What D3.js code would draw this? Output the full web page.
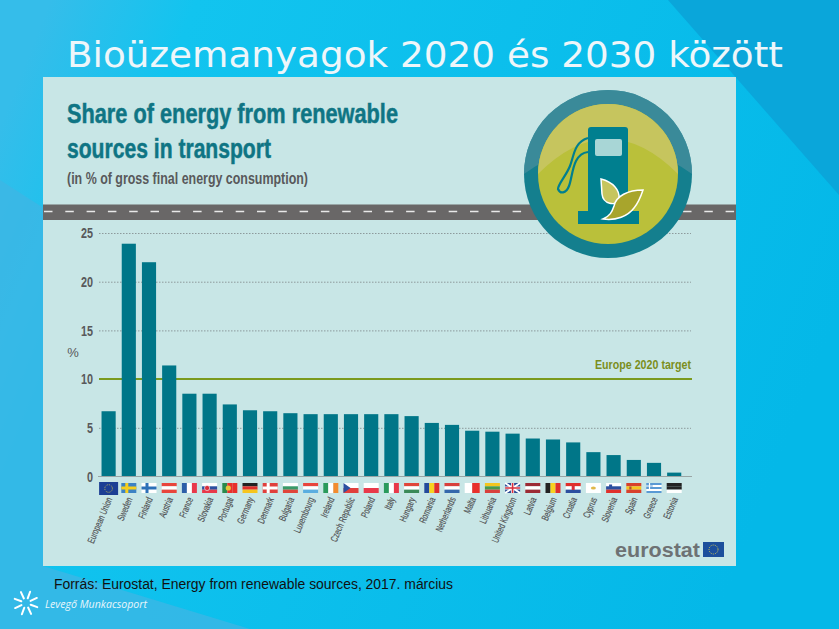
<!DOCTYPE html>
<html>
<head>
<meta charset="utf-8">
<script src="https://cdn.jsdelivr.net/npm/d3@7"></script>
<style>
  html, body { margin: 0; padding: 0; background: #08c0ec; overflow: hidden; }
  svg { display: block; }
  .narrow { font-family: "Liberation Sans", sans-serif; }
</style>
</head>
<body>
<svg id="chart" width="839" height="629"></svg>
<script>
const countries = ["European Union", "Sweden", "Finland", "Austria", "France", "Slovakia", "Portugal", "Germany", "Denmark", "Bulgaria", "Luxembourg", "Ireland", "Czech Republic", "Poland", "Italy", "Hungary", "Romania", "Netherlands", "Malta", "Lithuania", "United Kingdom", "Latvia", "Belgium", "Croatia", "Cyprus", "Slovenia", "Spain", "Greece", "Estonia"];
const shares = [6.7, 23.9, 22, 11.4, 8.5, 8.5, 7.4, 6.8, 6.7, 6.5, 6.4, 6.4, 6.4, 6.4, 6.4, 6.2, 5.5, 5.3, 4.7, 4.6, 4.4, 3.9, 3.8, 3.5, 2.5, 2.2, 1.7, 1.4, 0.4];
const yTicks = [0, 5, 10, 15, 20, 25];
const target = 10;

// flag drawing: h = horizontal stripes, v = vertical stripes
const flagStripes = {
  "Austria": ["h", "#e8453c", "#fff", "#e8453c"],
  "France": ["v", "#2c5fa8", "#fff", "#e8394a"],
  "Slovakia": ["h", "#fff", "#2c4fa0", "#e8394a"],
  "Germany": ["h", "#222", "#e0302c", "#f6c51e"],
  "Bulgaria": ["h", "#fff", "#3a9a68", "#e0453a"],
  "Luxembourg": ["h", "#e8453c", "#fff", "#5aaee0"],
  "Ireland": ["v", "#2a9a5c", "#fff", "#f28c30"],
  "Czech Republic": ["h", "#fff", "#e0403c"],
  "Poland": ["h", "#fff", "#e8394a"],
  "Italy": ["v", "#2a9a5c", "#fff", "#e8394a"],
  "Hungary": ["h", "#e0453a", "#fff", "#3a8a58"],
  "Romania": ["v", "#244a9c", "#f8d21e", "#e0302c"],
  "Netherlands": ["h", "#d8403c", "#fff", "#3468ac"],
  "Malta": ["v", "#fff", "#e8302c"],
  "Lithuania": ["h", "#f4c51e", "#4a9a4c", "#d8403c"],
  "Latvia": ["h", "#9c2a34", "#fff", "#9c2a34"],
  "Belgium": ["v", "#222", "#f8d21e", "#e0302c"],
  "Croatia": ["h", "#e0302c", "#fff", "#2c4fa0"],
  "Slovenia": ["h", "#fff", "#2c4fa0", "#e0302c"],
  "Spain": ["h", "#d8402c", "#f6c51e", "#d8402c"],
  "Estonia": ["h", "#222", "#222", "#fff"],
  "Cyprus": ["h", "#fff"],
  "European Union": ["h", "#1c3f94"],
  "Portugal": ["v", "#2a8a4c", "#e8302c", "#e8302c"],
};
const flagCrosses = {
  "Sweden": ["#3c82c4", "#f6cf1e"],
  "Finland": ["#fff", "#2c70b8"],
  "Denmark": ["#e0403c", "#fff"],
};

// no condensed font installed, so squeeze the glyphs horizontally
function squeeze(sel, factor) {
  sel.each(function () {
    const len = this.getComputedTextLength();
    d3.select(this).attr("textLength", len * factor).attr("lengthAdjust", "spacingAndGlyphs");
  });
}

const svg = d3.select("#chart");
const defs = svg.append("defs");

// slide background
const bg = defs.append("linearGradient").attr("id", "bg").attr("x1", 0).attr("x2", 1).attr("y1", 0.2).attr("y2", 0.5);
bg.append("stop").attr("offset", 0).attr("stop-color", "#35bdea");
bg.append("stop").attr("offset", 0.16).attr("stop-color", "#12c4ef");
bg.append("stop").attr("offset", 1).attr("stop-color", "#04b8e8");
svg.append("rect").attr("width", 839).attr("height", 629).attr("fill", "url(#bg)");
svg.append("path").attr("d", "M0,180 L140,270 L43,566 L250,629 L0,629Z").attr("fill", "#3fb6e4").attr("opacity", 0.75);
svg.append("path").attr("d", "M668,0 L839,0 L839,195Z").attr("fill", "#0aa6da");

svg.append("text").attr("x", 67).attr("y", 67)
  .attr("font-family", "DejaVu Sans").attr("font-size", 36).attr("fill", "#eef6fa")
  .attr("textLength", 716).attr("lengthAdjust", "spacingAndGlyphs")
  .text("Bioüzemanyagok 2020 és 2030 között");

// panel
svg.append("rect").attr("x", 43).attr("y", 77).attr("width", 693).attr("height", 489).attr("fill", "#c8e6e6");

const titleG = svg.append("g").attr("class", "narrow").attr("font-weight", "bold");
titleG.append("text").attr("x", 67).attr("y", 122.5).attr("font-size", 28).attr("fill", "#0f7584").attr("stroke", "#0f7584").attr("stroke-width", 0.5)
  .attr("textLength", 331).attr("lengthAdjust", "spacingAndGlyphs").text("Share of energy from renewable");
titleG.append("text").attr("x", 67).attr("y", 157.5).attr("font-size", 28).attr("fill", "#0f7584").attr("stroke", "#0f7584").attr("stroke-width", 0.5)
  .attr("textLength", 204).attr("lengthAdjust", "spacingAndGlyphs").text("sources in transport");
titleG.append("text").attr("x", 67).attr("y", 184).attr("font-size", 16).attr("fill", "#58595b")
  .attr("textLength", 241).attr("lengthAdjust", "spacingAndGlyphs").text("(in % of gross final energy consumption)");

// road
svg.append("rect").attr("x", 43).attr("y", 204.5).attr("width", 693).attr("height", 15.5).attr("fill", "#696767");
svg.append("line").attr("x1", 44).attr("x2", 736).attr("y1", 211.5).attr("y2", 211.5)
  .attr("stroke", "#e8e8e8").attr("stroke-width", 1.5).attr("stroke-dasharray", "8.5 12.8");

// scales
const x = d3.scaleBand().domain(countries).range([98.5, 684.3]).paddingInner(0.3).paddingOuter(0.15);
const y = d3.scaleLinear().domain([0, 25]).range([476.5, 233]);

// y axis with dotted gridlines
const yAxis = svg.append("g").attr("transform", "translate(99,0)")
  .call(d3.axisLeft(y).tickValues(yTicks).tickSize(-592).tickPadding(6));
yAxis.select(".domain").remove();
yAxis.selectAll("line").attr("stroke", "#8d9a9c").attr("stroke-dasharray", "1.5 1.5")
  .filter(d => d === 0 || d === target).remove();
yAxis.selectAll("text").attr("class", "narrow").attr("font-size", 15).attr("font-weight", "bold").attr("fill", "#58595b")
  .call(squeeze, 0.72);

svg.append("text").attr("class", "narrow").attr("x", 73).attr("y", 357).attr("text-anchor", "middle")
  .attr("font-size", 13).attr("fill", "#58595b").text("%");

// target line
svg.append("line").attr("x1", 99).attr("x2", 692).attr("y1", y(target)).attr("y2", y(target))
  .attr("stroke", "#7b9a1e").attr("stroke-width", 2);
svg.append("text").attr("class", "narrow").attr("x", 691).attr("y", 369).attr("text-anchor", "end")
  .attr("font-size", 13.5).attr("font-weight", "bold").attr("fill", "#7b8e1c")
  .attr("textLength", 96).attr("lengthAdjust", "spacingAndGlyphs").text("Europe 2020 target");

// bars
svg.append("g").selectAll("rect").data(countries).join("rect")
  .attr("x", d => x(d))
  .attr("width", x.bandwidth())
  .attr("y", (d, i) => y(shares[i]))
  .attr("height", (d, i) => y(0) - y(shares[i]))
  .attr("fill", "#007688");

svg.append("line").attr("x1", 98).attr("x2", 692).attr("y1", y(0)).attr("y2", y(0))
  .attr("stroke", "#9aa5a5").attr("stroke-width", 1);

// flags
const flagW = 15, flagH = 10, flagTop = 483;
const flags = svg.append("g").selectAll("g").data(countries).join("g")
  .attr("transform", d => `translate(${x(d) + x.bandwidth() / 2 - flagW / 2},${flagTop})`);
flags.each(function (name) {
  const g = d3.select(this);
  const cross = flagCrosses[name];
  if (cross) {
    g.append("rect").attr("width", flagW).attr("height", flagH).attr("fill", cross[0]);
    g.append("rect").attr("x", 4).attr("width", 3).attr("height", flagH).attr("fill", cross[1]);
    g.append("rect").attr("y", 3.5).attr("width", flagW).attr("height", 3).attr("fill", cross[1]);
    return;
  }
  if (name === "United Kingdom") {
    g.append("rect").attr("width", flagW).attr("height", flagH).attr("fill", "#2b4a94");
    g.append("path").attr("d", `M0,0L${flagW},${flagH}M${flagW},0L0,${flagH}`).attr("stroke", "#fff").attr("stroke-width", 2);
    g.append("path").attr("d", `M${flagW / 2},0V${flagH}M0,${flagH / 2}H${flagW}`).attr("stroke", "#fff").attr("stroke-width", 3);
    g.append("path").attr("d", `M${flagW / 2},0V${flagH}M0,${flagH / 2}H${flagW}`).attr("stroke", "#d8303c").attr("stroke-width", 1.6);
    return;
  }
  if (name === "Greece") {
    d3.range(5).forEach(k => g.append("rect").attr("y", k * 2).attr("width", flagW).attr("height", 2).attr("fill", k % 2 ? "#fff" : "#5a9ad4"));
    g.append("rect").attr("width", 6).attr("height", 6).attr("fill", "#5a9ad4");
    g.append("path").attr("d", "M3,0V6M0,3H6").attr("stroke", "#fff").attr("stroke-width", 1.2);
    return;
  }
  const [dir, ...cols] = flagStripes[name];
  const n = cols.length;
  cols.forEach((c, k) => {
    if (dir === "h") g.append("rect").attr("y", k * flagH / n).attr("width", flagW).attr("height", flagH / n).attr("fill", c);
    else g.append("rect").attr("x", k * flagW / n).attr("width", flagW / n).attr("height", flagH).attr("fill", c);
  });
  if (name === "European Union") {
    g.select("rect").attr("x", -2).attr("y", -1).attr("width", flagW + 4).attr("height", flagH + 3);
    g.append("circle").attr("cx", flagW / 2).attr("cy", flagH / 2 + 0.5).attr("r", 3.8).attr("fill", "none").attr("stroke", "#d8c84a").attr("stroke-width", 0.8).attr("stroke-dasharray", "1 1");
  }
  if (name === "Cyprus") g.append("ellipse").attr("cx", flagW / 2).attr("cy", flagH / 2).attr("rx", 2.5).attr("ry", 1.5).attr("fill", "#e0b84a");
  if (name === "Slovakia") g.append("circle").attr("cx", 5).attr("cy", 5).attr("r", 2.6).attr("fill", "#d8303c").attr("stroke", "#fff").attr("stroke-width", 0.6);
  if (name === "Portugal") g.append("circle").attr("cx", 6).attr("cy", 5).attr("r", 2.6).attr("fill", "#e8c63a");
  if (name === "Croatia") g.append("rect").attr("x", 6).attr("y", 3).attr("width", 3).attr("height", 4).attr("fill", "#d8303c");
  if (name === "Spain") g.append("rect").attr("x", 3).attr("y", 3.5).attr("width", 2.2).attr("height", 3).attr("fill", "#b5502c");
  if (name === "Slovenia") g.append("path").attr("d", "M3,1.5h3v3l-1.5,1.5l-1.5,-1.5Z").attr("fill", "#2c4fa0");
  if (name === "Czech Republic") g.append("path").attr("d", `M0,0L7,${flagH / 2}L0,${flagH}Z`).attr("fill", "#2c4fa0");
});

// country labels
svg.append("g").attr("class", "narrow").selectAll("text").data(countries).join("text")
  .attr("transform", d => `translate(${x(d) + x.bandwidth() / 2 + 4},499) rotate(-67)`)
  .attr("text-anchor", "end")
  .attr("font-size", 10)
  .attr("fill", "#4f5052")
  .attr("stroke", "#4f5052")
  .attr("stroke-width", 0.15)
  .text(d => d)
  .call(squeeze, 0.68);

// pump badge
const badge = svg.append("g").attr("transform", "translate(608,174)");
badge.append("circle").attr("r", 84).attr("fill", "#147f8e");
badge.append("path").attr("d", "M-84,0A84,84 0 0 1 84,0Q0,-60 -84,0Z").attr("fill", "#4a8f9e").attr("opacity", 0.7);
badge.append("circle").attr("r", 70).attr("fill", "#bac03a");
badge.append("path").attr("d", "M-70,0A70,70 0 0 1 70,0Q0,-70 -70,0Z").attr("fill", "#c6c55e");
badge.append("rect").attr("x", -20).attr("y", -47).attr("width", 40).attr("height", 92).attr("rx", 3).attr("fill", "#007f8f");
badge.append("rect").attr("x", -30).attr("y", 37).attr("width", 61).attr("height", 13).attr("fill", "#007f8f");
badge.append("rect").attr("x", -13).attr("y", -35).attr("width", 27).attr("height", 17).attr("rx", 2).attr("fill", "#a8d6d6");
badge.append("path").attr("d", "M-20,-36C-34,-32 -34,-18 -38,-8C-42,2 -50,10 -50,15C-48,20 -42,20 -39,12C-35,2 -36,-20 -20,-22")
  .attr("fill", "none").attr("stroke", "#007f8f").attr("stroke-width", 2.2);
badge.append("path").attr("d", "M-7,5C5,8 12,16 11,25C8,33 -5,30 -6,20Z").attr("fill", "#c6c55e").attr("stroke", "#fff").attr("stroke-width", 1.5);
badge.append("path").attr("d", "M35,16C20,16 8,22 6,32C4,38 2,42 -5,45C8,47 20,42 26,34C31,28 33,22 35,16Z").attr("fill", "#a8a52c").attr("stroke", "#fff").attr("stroke-width", 1.5);

// eurostat logo
svg.append("text").attr("x", 615).attr("y", 557).attr("font-family", "Liberation Sans").attr("font-weight", "bold")
  .attr("font-size", 20).attr("fill", "#6e7274").attr("textLength", 85).attr("lengthAdjust", "spacingAndGlyphs").text("eurostat");
svg.append("rect").attr("x", 703).attr("y", 542).attr("width", 21).attr("height", 15).attr("fill", "#1c4f9c");
svg.append("circle").attr("cx", 713.5).attr("cy", 549.5).attr("r", 4.5).attr("fill", "none").attr("stroke", "#e8d84a").attr("stroke-width", 0.9).attr("stroke-dasharray", "1 1.2");

// footer
svg.append("text").attr("x", 54).attr("y", 589).attr("font-family", "Liberation Sans").attr("font-size", 14).attr("fill", "#111")
  .attr("textLength", 399).attr("lengthAdjust", "spacingAndGlyphs").text("Forrás: Eurostat, Energy from renewable sources, 2017. március");
svg.append("text").attr("x", 45).attr("y", 608).attr("font-family", "Open Sans").attr("font-style", "italic").attr("font-size", 10.5).attr("fill", "#e8f6fb")
  .attr("textLength", 102).attr("lengthAdjust", "spacingAndGlyphs").text("Levegő Munkacsoport");
const sunAngles = d3.range(8).map(k => k * 45 + 20);
svg.append("g").attr("transform", "translate(26,603)").selectAll("line").data(sunAngles).join("line")
  .attr("transform", d => `rotate(${d})`)
  .attr("x1", 5).attr("x2", 12).attr("stroke", "#fff").attr("stroke-width", 2).attr("stroke-linecap", "round");
</script>
</body>
</html>
